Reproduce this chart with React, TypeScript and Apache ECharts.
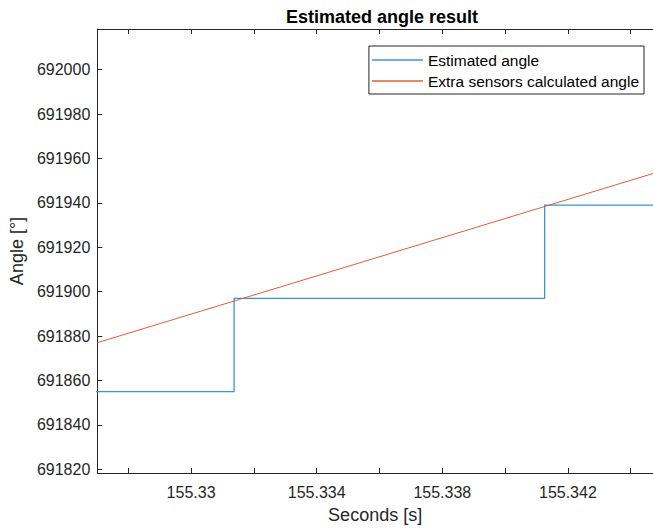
import React, { useEffect, useRef } from "react";
import * as echarts from "echarts";

const X_MIN = 155.327013;
const X_MAX = 155.34471;
const Y_MIN = 691818.3;
const Y_MAX = 692018.3;

const xTickValues = [155.328, 155.33, 155.332, 155.334, 155.336, 155.338, 155.34, 155.342, 155.344];
const xLabelValues = [155.33, 155.334, 155.338, 155.342];
const yTickValues = [691820, 691840, 691860, 691880, 691900, 691920, 691940, 691960, 691980, 692000];

const estimatedX = [155.326, 155.33137, 155.33137, 155.34126, 155.34126, 155.346];
const estimatedY = [691855, 691855, 691897, 691897, 691939, 691939];

const extraX = [155.327013, 155.34471];
const extraY = [691877.0, 691953.2];

const AXIS_COLOR = "#262626";
const FONT = "'Liberation Sans', Arial, Helvetica, sans-serif";

export default function App() {
  const ref = useRef<HTMLDivElement>(null);
  useEffect(() => {
    if (!ref.current) return;
    const chart = echarts.init(ref.current, undefined, { renderer: "svg" });
    const fmtX = (v: number) => String(parseFloat(Number(v).toFixed(4)));
    const baseX = {
      type: "value" as const,
      min: X_MIN,
      max: X_MAX,
      splitLine: { show: false },
      axisLine: { show: true, onZero: false, lineStyle: { color: AXIS_COLOR, width: 1 } },
    };
    chart.setOption({
      animation: false,
      textStyle: { fontFamily: FONT },
      title: {
        text: "Estimated angle result",
        left: 377,
        textAlign: "center",
        top: 3,
        textStyle: { fontSize: 18, fontWeight: "bold", color: "#000", fontFamily: FONT },
      },
      legend: {
        orient: "vertical",
        right: 9,
        top: 46,
        backgroundColor: "#fff",
        borderColor: AXIS_COLOR,
        borderWidth: 1,
        padding: [6, 5, 5, 3],
        itemGap: 5,
        itemWidth: 51,
        itemHeight: 1.5,
        icon: "rect",
        textStyle: { fontSize: 15.5, color: "#000", fontFamily: FONT },
        data: ["Estimated angle", "Extra sensors calculated angle"],
      },
      grid: { left: 97, top: 29, right: 0, bottom: 55 },
      xAxis: [
        {
          ...baseX,
          position: "bottom",
          name: "Seconds [s]",
          nameLocation: "middle",
          nameGap: 33,
          nameTextStyle: { fontSize: 18, color: AXIS_COLOR, fontFamily: FONT },
          axisTick: { show: true, inside: true, length: 5, customValues: xTickValues, lineStyle: { color: AXIS_COLOR } },
          axisLabel: {
            show: true,
            customValues: xLabelValues,
            formatter: fmtX,
            fontSize: 16,
            color: AXIS_COLOR,
            margin: 11,
            fontFamily: FONT,
          },
        },
        {
          ...baseX,
          position: "top",
          axisTick: { show: true, inside: true, length: 5, customValues: xTickValues, lineStyle: { color: AXIS_COLOR } },
          axisLabel: { show: false },
        },
      ],
      yAxis: {
        type: "value",
        min: Y_MIN,
        max: Y_MAX,
        name: "Angle [°]",
        nameLocation: "middle",
        nameGap: 70,
        nameTextStyle: { fontSize: 18, color: AXIS_COLOR, fontFamily: FONT },
        splitLine: { show: false },
        axisLine: { show: true, onZero: false, lineStyle: { color: AXIS_COLOR, width: 1 } },
        axisTick: { show: true, inside: true, length: 5, customValues: yTickValues, lineStyle: { color: AXIS_COLOR } },
        axisLabel: {
          show: true,
          customValues: yTickValues,
          formatter: (v: number) => String(Math.round(v)),
          fontSize: 16,
          color: AXIS_COLOR,
          margin: 7,
          fontFamily: FONT,
        },
      },
      series: [
        {
          name: "Estimated angle",
          type: "line",
          xAxisIndex: 0,
          data: estimatedX.map((x, i) => [x, estimatedY[i]]),
          showSymbol: false,
          symbol: "none",
          clip: true,
          lineStyle: { color: "#3a95d6", width: 1.3 },
          itemStyle: { color: "#3a95d6" },
        },
        {
          name: "Extra sensors calculated angle",
          type: "line",
          xAxisIndex: 0,
          data: extraX.map((x, i) => [x, extraY[i]]),
          showSymbol: false,
          symbol: "none",
          clip: true,
          lineStyle: { color: "#dd6030", width: 1 },
          itemStyle: { color: "#dd6030" },
        },
      ],
    });
    return () => chart.dispose();
  }, []);
  return (
    <div
      ref={ref}
      style={{ position: "absolute", left: 0, top: 0, width: 653, height: 529, background: "#fff" }}
    />
  );
}
